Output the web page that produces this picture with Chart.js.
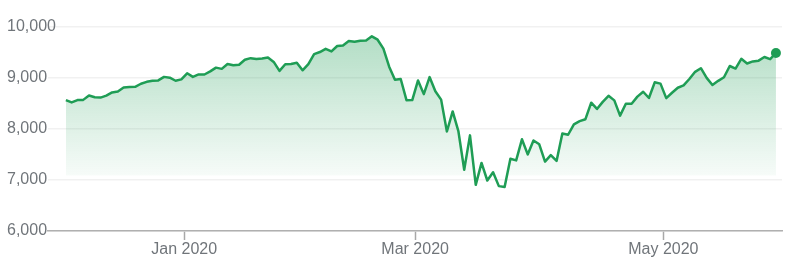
<!DOCTYPE html>
<html>
<head>
<meta charset="utf-8">
<style>
  html, body { margin: 0; padding: 0; background: #fff; }
  #wrap { width: 791px; height: 278px; }
</style>
<script src="https://cdn.jsdelivr.net/npm/chart.js@4.4.1/dist/chart.umd.min.js"></script>
</head>
<body>
<div id="wrap"><canvas id="chart" width="791" height="278"></canvas></div>
<script>
// Nasdaq-style daily closes, Dec 2019 - May 2020

const dates = [
  '2019-12-02','2019-12-03','2019-12-04','2019-12-05','2019-12-06','2019-12-09','2019-12-10','2019-12-11','2019-12-12','2019-12-13',
  '2019-12-16','2019-12-17','2019-12-18','2019-12-19','2019-12-20','2019-12-23','2019-12-24','2019-12-26','2019-12-27','2019-12-30',
  '2019-12-31','2020-01-02','2020-01-03','2020-01-06','2020-01-07','2020-01-08','2020-01-09','2020-01-10','2020-01-13','2020-01-14',
  '2020-01-15','2020-01-16','2020-01-17','2020-01-21','2020-01-22','2020-01-23','2020-01-24','2020-01-27','2020-01-28','2020-01-29',
  '2020-01-30','2020-01-31','2020-02-03','2020-02-04','2020-02-05','2020-02-06','2020-02-07','2020-02-10','2020-02-11','2020-02-12',
  '2020-02-13','2020-02-14','2020-02-18','2020-02-19','2020-02-20','2020-02-21','2020-02-24','2020-02-25','2020-02-26','2020-02-27',
  '2020-02-28','2020-03-02','2020-03-03','2020-03-04','2020-03-05','2020-03-06','2020-03-09','2020-03-10','2020-03-11','2020-03-12',
  '2020-03-13','2020-03-16','2020-03-17','2020-03-18','2020-03-19','2020-03-20','2020-03-23','2020-03-24','2020-03-25','2020-03-26',
  '2020-03-27','2020-03-30','2020-03-31','2020-04-01','2020-04-02','2020-04-03','2020-04-06','2020-04-07','2020-04-08','2020-04-09',
  '2020-04-13','2020-04-14','2020-04-15','2020-04-16','2020-04-17','2020-04-20','2020-04-21','2020-04-22','2020-04-23','2020-04-24',
  '2020-04-27','2020-04-28','2020-04-29','2020-04-30','2020-05-01','2020-05-04','2020-05-05','2020-05-06','2020-05-07','2020-05-08',
  '2020-05-11','2020-05-12','2020-05-13','2020-05-14','2020-05-15','2020-05-18','2020-05-19','2020-05-20','2020-05-21','2020-05-22',
  '2020-05-26','2020-05-27','2020-05-28','2020-05-29'
];

const closes = [
  8568, 8521, 8567, 8571, 8657, 8622, 8616, 8654, 8717, 8735,
  8814, 8823, 8828, 8887, 8925, 8946, 8953, 9022, 9007, 8946,
  8973, 9092, 9021, 9071, 9069, 9129, 9203, 9179, 9274, 9251,
  9259, 9357, 9389, 9371, 9384, 9402, 9315, 9139, 9270, 9275,
  9299, 9151, 9273, 9468, 9509, 9572, 9521, 9628, 9639, 9726,
  9712, 9731, 9733, 9817, 9751, 9577, 9221, 8966, 8981, 8566,
  8567, 8952, 8684, 9018, 8739, 8576, 7951, 8344, 7952, 7202,
  7875, 6905, 7335, 6990, 7151, 6880, 6861, 7418, 7384, 7798,
  7502, 7774, 7700, 7361, 7487, 7373, 7913, 7887, 8091, 8154,
  8192, 8516, 8393, 8532, 8650, 8561, 8263, 8495, 8495, 8635,
  8730, 8608, 8915, 8890, 8605, 8711, 8809, 8854, 8980, 9121,
  9192, 9003, 8863, 8944, 9015, 9235, 9185, 9376, 9285, 9325,
  9340, 9412, 9369, 9490
];

const monthLabels = ['Jan 2020', 'Mar 2020', 'May 2020'];
const monthKeys = ['2020-01', '2020-03', '2020-05'];
const yTicks = [6000, 7000, 8000, 9000, 10000];

const green = '#1f9d55';
const labelColor = '#70757a';
const fontFamily = '"Liberation Sans", Arial, sans-serif';

// tick sits between the last session of the old month and the first of the new one
const monthTickPos = monthKeys.map(k => dates.findIndex(d => d.startsWith(k)) - 0.5);

const points = closes.map((v, i) => ({ x: i, y: v }));
const lastIdx = closes.length - 1;

const ctx = document.getElementById('chart').getContext('2d');

function areaGradient(context) {
  const area = context.chart.chartArea;
  if (!area) return 'rgba(31,157,85,0.2)';
  const yScale = context.chart.scales.y;
  const bottom = yScale.getPixelForValue(7100);
  const g = context.chart.ctx.createLinearGradient(0, area.top, 0, area.bottom);
  const stop = (bottom - area.top) / (area.bottom - area.top);
  g.addColorStop(0, 'rgba(31,157,85,0.36)');
  g.addColorStop(stop, 'rgba(31,157,85,0.04)');
  g.addColorStop(Math.min(1, stop + 0.005), 'rgba(31,157,85,0)');
  g.addColorStop(1, 'rgba(31,157,85,0)');
  return g;
}

new Chart(ctx, {
  type: 'line',
  data: {
    datasets: [{
      data: points,
      borderColor: green,
      borderWidth: 2.5,
      backgroundColor: areaGradient,
      fill: 'start',
      tension: 0,
      pointRadius: c => c.dataIndex === lastIdx ? 5 : 0,
      pointBackgroundColor: green,
      pointBorderWidth: 0,
      borderJoinStyle: 'round'
    }]
  },
  options: {
    responsive: false,
    animation: false,
    devicePixelRatio: 1,
    layout: { padding: { left: 7, right: 9, top: 27, bottom: 0 } },
    plugins: {
      legend: { display: false },
      tooltip: { enabled: false }
    },
    scales: {
      x: {
        type: 'linear',
        min: -3.1,
        max: lastIdx + 1.05,
        afterBuildTicks: scale => {
          scale.ticks = monthTickPos.map(p => ({ value: p }));
        },
        afterFit: scale => { scale.height = 47; },
        ticks: {
          autoSkip: false,
          maxRotation: 0,
          padding: 0,
          color: labelColor,
          font: { family: fontFamily, size: 16 },
          callback: (value, i) => monthLabels[i]
        },
        grid: {
          drawOnChartArea: false,
          drawTicks: true,
          tickLength: 9,
          tickColor: '#a8a8a8',
          tickWidth: 1.5
        },
        border: { display: true, color: '#b0b0b0', width: 1.5 }
      },
      y: {
        min: 6000,
        max: 10000,
        afterBuildTicks: scale => {
          scale.ticks = yTicks.map(v => ({ value: v }));
        },
        afterFit: scale => { scale.width = 41; },
        ticks: {
          // mirrored so the wide "10,000" is not clipped to the axis box
          mirror: true,
          crossAlign: 'near',
          padding: -41,
          color: labelColor,
          font: { family: fontFamily, size: 16 },
          callback: v => v.toLocaleString('en-US')
        },
        grid: {
          color: '#f1f1f1',
          lineWidth: 1.5,
          drawTicks: false
        },
        border: { display: false }
      }
    }
  }
});
</script>
</body>
</html>
